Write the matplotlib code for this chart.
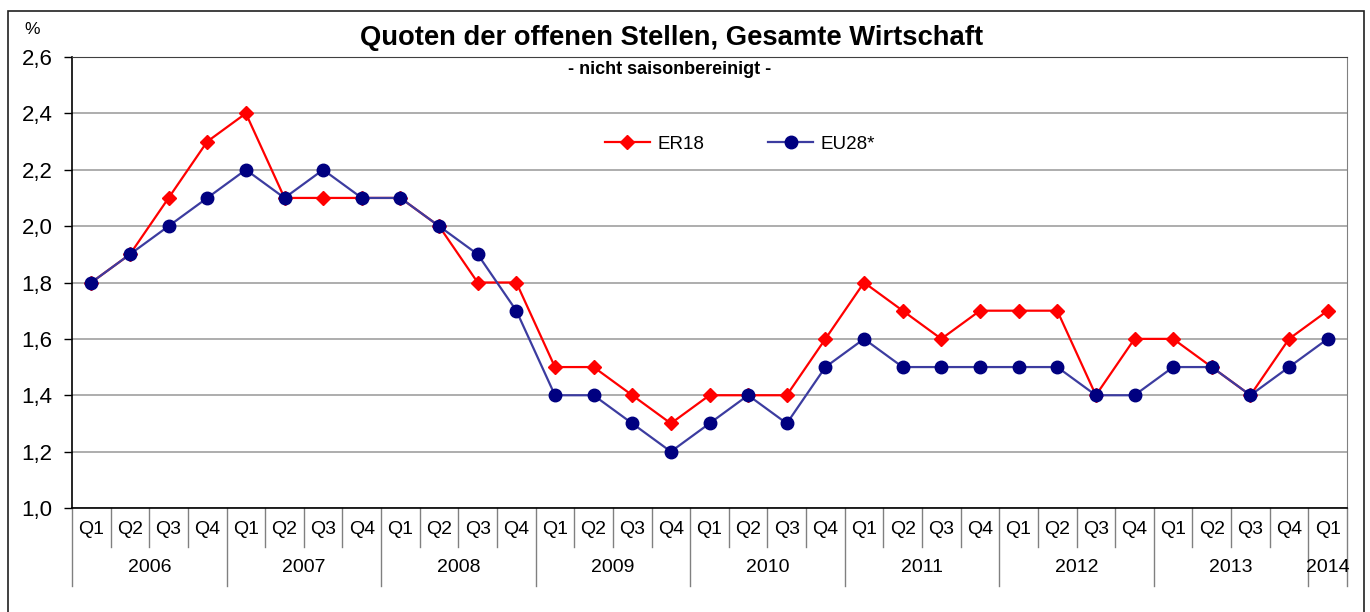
import matplotlib
matplotlib.use("Agg")
import matplotlib.pyplot as plt
from matplotlib.patches import Rectangle
import numpy as np

plt.rcParams['font.family'] = ['Liberation Sans', 'DejaVu Sans']

years = ["2006", "2007", "2008", "2009", "2010", "2011", "2012", "2013", "2014"]
quarters = ["Q1", "Q2", "Q3", "Q4"]
quarter_labels = [q for y in years[:-1] for q in quarters] + ["Q1"]
er18 = [1.8, 1.9, 2.1, 2.3, 2.4, 2.1, 2.1, 2.1, 2.1, 2.0, 1.8, 1.8,
        1.5, 1.5, 1.4, 1.3, 1.4, 1.4, 1.4, 1.6, 1.8, 1.7, 1.6, 1.7,
        1.7, 1.7, 1.4, 1.6, 1.6, 1.5, 1.4, 1.6, 1.7]
eu28 = [1.8, 1.9, 2.0, 2.1, 2.2, 2.1, 2.2, 2.1, 2.1, 2.0, 1.9, 1.7,
        1.4, 1.4, 1.3, 1.2, 1.3, 1.4, 1.3, 1.5, 1.6, 1.5, 1.5, 1.5,
        1.5, 1.5, 1.4, 1.4, 1.5, 1.5, 1.4, 1.5, 1.6]
yticks = [1.0, 1.2, 1.4, 1.6, 1.8, 2.0, 2.2, 2.4, 2.6]

W, H = 1370, 612
fig = plt.figure(figsize=(W / 100, H / 100), dpi=100)
L, R, T, B = 72, 1347, 57, 508
ax = fig.add_axes([L / W, 1 - B / H, (R - L) / W, (B - T) / H])

n = len(er18)
x = np.arange(n) + 0.5
ax.plot(x, er18, color='#ff0000', lw=1.6, marker='D', ms=7.5,
        mfc='#ff0000', mec='#ff0000', label='ER18', zorder=3)
ax.plot(x, eu28, color='#3c3ca0', lw=1.6, marker='o', ms=9,
        mfc='#000080', mec='#000080', label='EU28*', zorder=4)

ax.set_xlim(0, n)
ax.set_ylim(1.0, 2.6)
ax.set_yticks(yticks)
ax.set_yticklabels([f"{v:.1f}".replace('.', ',') for v in yticks], fontsize=16)
ax.tick_params(axis='y', length=6, width=1, color='#000000', pad=8)
ax.set_xticks([])
ax.yaxis.grid(True, color='#a0a0a0', lw=1.2)
ax.set_axisbelow(True)
for s in ['left', 'bottom']:
    ax.spines[s].set_color('black')
    ax.spines[s].set_linewidth(1.2)
ax.spines['top'].set_color('#404040')
ax.spines['right'].set_color('#808080')

# category axis
tr = ax.get_xaxis_transform()
ah = B - T
q_bottom = -(547 - B) / ah
y_bottom = -(586 - B) / ah
for i, q in enumerate(quarter_labels):
    ax.text(i + 0.5, -(530 - B) / ah, q, transform=tr, ha='center', va='center', fontsize=14)
for i in range(n + 1):
    yb = y_bottom if (i % 4 == 0 or i == n) else q_bottom
    ax.plot([i, i], [0, yb], transform=tr, color='#808080', lw=1, clip_on=False)
for k, yr in enumerate(years):
    start = 4 * k
    end = min(4 * k + 4, n)
    ax.text((start + end) / 2, -(567 - B) / ah, yr, transform=tr, ha='center', va='center', fontsize=14)

ax.legend(loc='center', bbox_to_anchor=(740 / W, 1 - 144 / H), bbox_transform=fig.transFigure,
          ncol=2, frameon=False, fontsize=13.5, handlelength=2.4, columnspacing=3.4,
          handletextpad=0.4)

fig.text(672 / W, 1 - 38 / H, "Quoten der offenen Stellen, Gesamte Wirtschaft",
         ha='center', va='center', fontsize=19.7, fontweight='bold')
fig.text(670 / W, 1 - 70 / H, "- nicht saisonbereinigt -",
         ha='center', va='center', fontsize=13, fontweight='bold')
fig.text(32 / W, 1 - 29 / H, "%", ha='center', va='center', fontsize=12.5)

fig.patches.append(Rectangle((8 / W, -0.05), (1364 - 8) / W, 1.05 - 11 / H,
                             transform=fig.transFigure, fill=False, ec='#202020', lw=1.2))

fig.savefig("out.png", dpi=100, facecolor='white')
